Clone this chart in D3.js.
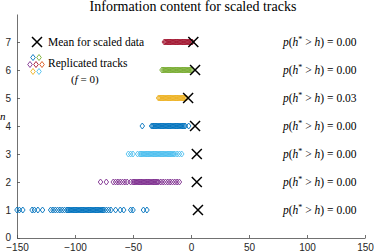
<!DOCTYPE html>
<html>
<head>
<meta charset="utf-8">
<script src="https://cdn.jsdelivr.net/npm/d3@7"></script>
<style>
  body { margin: 0; background: #fff; }
  .tick text { font-family: "Liberation Sans", Arial, sans-serif; font-size: 10px; fill: #262626; }
  .serif { font-family: "Liberation Serif", "Times New Roman", serif; fill: #000; }
</style>
</head>
<body>
<div id="chart"></div>
<script>
// Information content for scaled tracks

// Data: replicated track values per row n
var rowN = [1, 2, 3, 4, 5, 6, 7];
var rowColors = ["#0072BD", "#7E2F8E", "#4DBEEE", "#0072BD", "#EDB120", "#77AC30", "#A2142F"];

var rep1 = [-150, -148, -145, -137, -135, -132, -128, -121, -119, -117, -115, -113, -111, -109, -107, -106, -105, -104, -103, -102, -101, -100, -99, -98, -97, -96, -95, -94, -93, -92, -91, -90, -89, -88, -87, -86, -85, -84, -83, -82, -81, -80, -79, -78, -77, -76, -75, -73, -71, -69, -65, -61, -58, -52, -50, -41, -38];
var rep2 = [-78, -73, -67, -65, -63, -61, -59, -57, -55, -52, -50, -49, -48, -47, -46, -45, -44, -43, -42, -41, -40, -39, -38, -37, -36, -35, -34, -33, -32, -31, -30, -29, -28, -26, -24, -22, -20, -18, -16, -14, -12, -10];
var rep3 = [-54, -52, -50, -46, -44, -43, -42, -41, -40, -39, -38, -37, -36, -35, -34, -33, -32, -31, -30, -29, -28, -27, -26, -25, -24, -23, -22, -21, -20, -19, -18, -17, -16, -15, -14, -12, -10, -8];
var rep4 = [-42, -34, -33, -32, -31, -30, -29, -28, -27, -26, -25, -24, -23, -22, -21, -20, -19, -18, -17, -16, -15, -14, -13, -12, -11, -10, -9, -8, -7, -6, -5, -2];
var rep5 = [-28, -27, -26, -25, -24, -23, -22, -21, -20, -19, -18, -17, -16, -15, -14, -13, -12, -11, -10, -9, -8, -7, -6, -5, -4];
var rep6 = [-25, -24, -23, -22, -21, -20, -19, -18, -17, -16, -15, -14, -13, -12, -11, -10, -9, -8, -7, -6, -5, -4, -3, -2, -1, 0, 1];
var rep7 = [-23, -22, -21, -20, -19, -18, -17, -16, -15, -14, -13, -12, -11, -10, -9, -8, -7, -6, -5, -4, -3, -2, -1, 0, 1];
var replicated = [rep1, rep2, rep3, rep4, rep5, rep6, rep7];

// Mean for scaled data
var scaledMean = [6, 5, 5, 3.5, -2.5, 3.5, 2];

// p-values
var pValues = ["0.00", "0.00", "0.00", "0.00", "0.03", "0.00", "0.00"];

// Ticks
var xTicks = [-150, -100, -50, 0, 50, 100, 150];
var yTicks = [0, 1, 2, 3, 4, 5, 6, 7];

// Section 1: Set up
var width = 374;
var height = 252;

var svg = d3
  .select("#chart")
  .append("svg")
  .attr("width", width)
  .attr("height", height);

var xScale = d3.scaleLinear().domain([-150, 150]).range([17, 365]);
var yScale = d3.scaleLinear().domain([0, 8]).range([238, 14]);

var axisColor = "#4d4d4d";

// Axes (ticks point inward)
var xAxis = d3.axisBottom(xScale).tickValues(xTicks).tickSizeInner(-3).tickSizeOuter(0).tickPadding(7);
var yAxis = d3.axisLeft(yScale).tickValues(yTicks).tickSizeInner(-3).tickSizeOuter(0).tickPadding(6);

var gx = svg
  .append("g")
  .attr("class", "xAxis")
  .attr("transform", "translate(0," + yScale(0) + ")")
  .call(xAxis);
var gy = svg
  .append("g")
  .attr("class", "yAxis")
  .attr("transform", "translate(" + xScale(-150) + ",0)")
  .call(yAxis);

[gx, gy].forEach(function(g) {
  g.select(".domain").attr("stroke", axisColor).attr("stroke-width", 0.8);
  g.selectAll(".tick line").attr("stroke", axisColor).attr("stroke-width", 0.8);
});
gx.selectAll(".tick text").attr("dy", "0.55em");
gy.selectAll(".tick text").filter(function(d) { return d === 0; }).attr("dy", "0.2em");

// Title
svg
  .append("text")
  .attr("class", "serif")
  .attr("x", 193)
  .attr("y", 11)
  .attr("text-anchor", "middle")
  .attr("font-size", 14)
  .text("Information content for scaled tracks");

// y label
svg
  .append("text")
  .attr("class", "serif")
  .attr("x", 0)
  .attr("y", 120)
  .attr("font-size", 11)
  .attr("font-style", "italic")
  .text("n");

// Diamond path
function diamond(cx, cy, w, h) {
  return "M" + cx + "," + (cy - h) + "L" + (cx + w) + "," + cy + "L" + cx + "," + (cy + h) + "L" + (cx - w) + "," + cy + "Z";
}

function crossPath(cx, cy, r) {
  return "M" + (cx - r) + "," + (cy - r) + "L" + (cx + r) + "," + (cy + r) +
    "M" + (cx - r) + "," + (cy + r) + "L" + (cx + r) + "," + (cy - r);
}

// Replicated tracks
replicated.forEach(function(vals, i) {
  svg
    .append("g")
    .selectAll("path")
    .data(vals)
    .enter()
    .append("path")
    .attr("d", function(d) {
      return diamond(xScale(d), yScale(rowN[i]), 2.3, 3);
    })
    .attr("fill", "none")
    .attr("stroke", rowColors[i])
    .attr("stroke-width", 0.9);
});

// Means
svg
  .append("g")
  .selectAll("path")
  .data(scaledMean)
  .enter()
  .append("path")
  .attr("d", function(d, i) {
    return crossPath(xScale(d), yScale(rowN[i]), 5);
  })
  .attr("stroke", "#000")
  .attr("stroke-width", 1.5)
  .attr("fill", "none");

// p-value labels
pValues.forEach(function(p, i) {
  var t = svg
    .append("text")
    .attr("class", "serif")
    .attr("x", 283)
    .attr("y", yScale(rowN[i]) + 3.5)
    .attr("font-size", 11.5);
  t.append("tspan").attr("font-style", "italic").text("p");
  t.append("tspan").text("(");
  t.append("tspan").attr("font-style", "italic").text("h");
  t.append("tspan").attr("font-size", 8).attr("dy", -4).text("*");
  t.append("tspan").attr("dy", 4).text(" > ");
  t.append("tspan").attr("font-style", "italic").text("h");
  t.append("tspan").text(") = " + p);
});

// Legend
var legendSwatch = [
  { dx: -3, dy: -7, c: "#0072BD" },
  { dx: 3, dy: -7, c: "#77AC30" },
  { dx: -6, dy: 0, c: "#7E2F8E" },
  { dx: 0, dy: 0, c: "#A2142F" },
  { dx: 6, dy: 0, c: "#D95319" },
  { dx: -3, dy: 7, c: "#EDB120" },
  { dx: 3, dy: 7, c: "#4DBEEE" }
];

svg
  .append("path")
  .attr("d", crossPath(37, 42, 5))
  .attr("stroke", "#000")
  .attr("stroke-width", 1.5);

svg
  .append("text")
  .attr("class", "serif")
  .attr("x", 48)
  .attr("y", 45.5)
  .attr("font-size", 11.5)
  .text("Mean for scaled data");

svg
  .append("g")
  .selectAll("path")
  .data(legendSwatch)
  .enter()
  .append("path")
  .attr("d", function(d) {
    return diamond(36 + d.dx, 64.5 + d.dy, 2.3, 3);
  })
  .attr("fill", "none")
  .attr("stroke", function(d) { return d.c; })
  .attr("stroke-width", 0.9);

svg
  .append("text")
  .attr("class", "serif")
  .attr("x", 48)
  .attr("y", 66.5)
  .attr("font-size", 11.5)
  .text("Replicated tracks");

var fl = svg
  .append("text")
  .attr("class", "serif")
  .attr("x", 71)
  .attr("y", 82.5)
  .attr("font-size", 11);
fl.append("tspan").text("(");
fl.append("tspan").attr("font-style", "italic").text("f");
fl.append("tspan").text(" = 0)");
</script>
</body>
</html>
